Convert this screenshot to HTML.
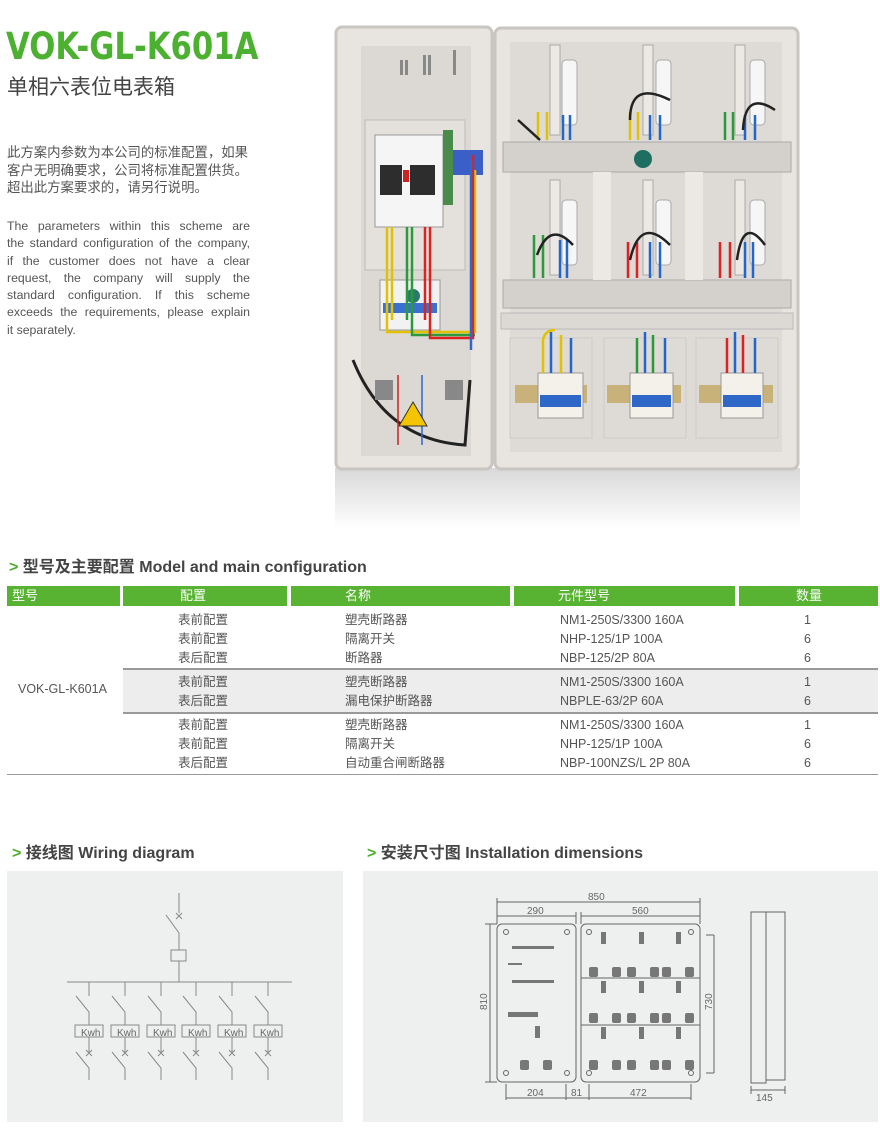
<!DOCTYPE html>
<html><head><meta charset="utf-8"><style>
body{margin:0;width:880px;height:1136px;background:#fff;position:relative;font-family:"Liberation Sans","Noto Sans CJK SC",sans-serif;color:#555;overflow:hidden}
.a{position:absolute;white-space:nowrap}
.h{position:absolute;font-size:16px;font-weight:bold;color:#444}
.h b{color:#4caf2a}
.th{position:absolute;top:586px;height:20px;background:#58b332;color:#fff;font-size:13px;line-height:20px}
.t{position:absolute;font-size:12.5px;color:#555;white-space:nowrap;font-family:"Liberation Sans","Noto Sans CJK SC",sans-serif}
.j{display:block;text-align:justify;text-align-last:justify;width:243px}
</style></head><body>
<div class="a" style="left:6px;top:25px;font-size:37px;font-weight:bold;color:#4cb030;font-family:'DejaVu Sans','Liberation Sans',sans-serif;transform:scaleX(0.83);transform-origin:left">VOK-GL-K601A</div>
<div class="a" style="left:7px;top:71px;font-size:21px;color:#444">单相六表位电表箱</div>
<div class="a" style="left:7px;top:144px;font-size:13.4px;line-height:17.5px;color:#555">此方案内参数为本公司的标准配置，如果<br>客户无明确要求，公司将标准配置供货。<br>超出此方案要求的，请另行说明。</div>
<div class="a" style="left:7px;top:218px;font-size:12.3px;line-height:17.3px;color:#555">
<span class="j">The parameters within this scheme are</span>
<span class="j">the standard configuration of the company,</span>
<span class="j">if the customer does not have a clear</span>
<span class="j">request, the company will supply the</span>
<span class="j">standard configuration. If this scheme</span>
<span class="j">exceeds the requirements, please explain</span>
<span style="display:block">it separately.</span>
</div>

<svg class="a" style="left:325px;top:20px" width="485" height="510">
<defs><linearGradient id="sh" x1="0" y1="0" x2="0" y2="1"><stop offset="0" stop-color="#d8d8d8"/><stop offset="1" stop-color="#fff"/></linearGradient></defs>
<rect x="10" y="448" width="465" height="60" fill="url(#sh)"/>
<rect x="11" y="7" width="156" height="442" rx="6" fill="#e8e4df" stroke="#c9c5c0" stroke-width="3"/>
<rect x="170" y="8" width="303" height="441" rx="6" fill="#e8e4df" stroke="#c9c5c0" stroke-width="3"/>
<rect x="36" y="26" width="110" height="410" fill="#dcd8d3"/>
<rect x="185" y="22" width="272" height="410" fill="#dedad5"/>
<rect x="40" y="100" width="100" height="150" fill="#e4e1dd" stroke="#bbb"/>
<rect x="50" y="115" width="68" height="92" fill="#f5f5f5" stroke="#999"/>
<rect x="55" y="145" width="22" height="30" fill="#2d2d2d"/><rect x="85" y="145" width="25" height="30" fill="#2d2d2d"/>
<rect x="78" y="150" width="6" height="12" fill="#c22"/>
<rect x="118" y="110" width="10" height="75" fill="#4a8a4a"/>
<rect x="128" y="130" width="30" height="25" fill="#3a60c8"/>
<rect x="55" y="260" width="60" height="50" fill="#f2f2f2" stroke="#999"/>
<rect x="58" y="283" width="54" height="10" fill="#3a70d0"/>
<circle cx="88" cy="276" r="7" fill="#2a7a6a"/>
<g stroke-width="2.5" fill="none"><path d="M62 207V300M67 207V300" stroke="#e2c200"/><path d="M82 207V300M87 207V300" stroke="#2a9a3a"/><path d="M100 207V300M105 207V300" stroke="#d22"/><path d="M62 300V312H150V150" stroke="#e2c200"/><path d="M87 300V315H150" stroke="#2a9a3a"/><path d="M105 300V318H148V135" stroke="#d22"/><path d="M146 140V330" stroke="#36c"/><path d="M28 340Q60 420 140 425 L145 360" stroke="#222" stroke-width="3"/><path d="M73 355V425" stroke="#c22" stroke-width="1.5"/><path d="M97 355V425" stroke="#36c" stroke-width="1.5"/></g>
<path d="M88 382L102 406L74 406Z" fill="#f5c400" stroke="#333"/>
<g fill="#888"><rect x="98" y="35" width="3" height="20"/><rect x="103" y="35" width="3" height="20"/><rect x="128" y="30" width="3" height="25"/><rect x="75" y="40" width="3" height="15"/><rect x="80" y="40" width="3" height="15"/><rect x="50" y="360" width="18" height="20"/><rect x="120" y="360" width="18" height="20"/></g>
<rect x="178" y="122" width="288" height="30" fill="#d4d1cc" stroke="#aaa"/>
<rect x="178" y="260" width="288" height="28" fill="#d4d1cc" stroke="#aaa"/>
<rect x="176" y="293" width="292" height="16" fill="#dcd9d4" stroke="#bbb"/>
<rect x="268" y="152" width="18" height="108" fill="#ece9e5"/><rect x="360" y="152" width="18" height="108" fill="#ece9e5"/>
<circle cx="318" cy="139" r="9" fill="#1f6e62"/>
<g fill="#ece9e5" stroke="#aaa"><rect x="225" y="25" width="10" height="90"/><rect x="318" y="25" width="10" height="90"/><rect x="410" y="25" width="10" height="90"/><rect x="225" y="160" width="10" height="95"/><rect x="318" y="160" width="10" height="95"/><rect x="410" y="160" width="10" height="95"/></g>
<g fill="#f6f6f6" stroke="#aaa"><rect x="237" y="40" width="15" height="65" rx="4"/><rect x="331" y="40" width="15" height="65" rx="4"/><rect x="425" y="40" width="15" height="65" rx="4"/><rect x="237" y="180" width="15" height="65" rx="4"/><rect x="331" y="180" width="15" height="65" rx="4"/><rect x="425" y="180" width="15" height="65" rx="4"/></g>
<g fill="none" stroke-width="2.5"><path d="M213 120V92M222 120V92" stroke="#e2c200"/><path d="M238 120V95M245 120V95" stroke="#26c"/><path d="M193 100L215 120" stroke="#222"/>
<path d="M305 120V92M313 120V92" stroke="#e2c200"/><path d="M325 120V95M335 120V95" stroke="#26c"/><path d="M305 100Q305 60 345 80" stroke="#222"/>
<path d="M400 120V92M408 120V92" stroke="#2a9a3a"/><path d="M420 120V95M430 120V95" stroke="#26c"/><path d="M418 110Q420 70 450 90" stroke="#222"/>
<path d="M209 258V215M218 258V215" stroke="#2a9a3a"/><path d="M235 258V220M242 258V220" stroke="#26c"/><path d="M212 235Q225 200 248 225" stroke="#222"/>
<path d="M303 258V222M312 258V222" stroke="#d22"/><path d="M325 258V222M335 258V222" stroke="#26c"/><path d="M305 240Q315 195 345 225" stroke="#222"/>
<path d="M395 258V222M405 258V222" stroke="#d22"/><path d="M420 258V222M428 258V222" stroke="#26c"/><path d="M412 240Q418 195 440 225" stroke="#222"/></g>
<g fill="none" stroke="#ccc"><rect x="185" y="318" width="82" height="100"/><rect x="279" y="318" width="82" height="100"/><rect x="371" y="318" width="82" height="100"/></g>
<g fill="#c9b27a"><rect x="190" y="365" width="72" height="18"/><rect x="282" y="365" width="74" height="18"/><rect x="374" y="365" width="74" height="18"/></g>
<g fill="#f4f1ea" stroke="#999"><rect x="213" y="353" width="45" height="45"/><rect x="305" y="353" width="43" height="45"/><rect x="396" y="353" width="42" height="45"/></g>
<g fill="#2f67c8"><rect x="215" y="375" width="41" height="12"/><rect x="307" y="375" width="39" height="12"/><rect x="398" y="375" width="38" height="12"/></g>
<g stroke-width="2.5" fill="none"><path d="M218 353V320Q220 310 230 310M236 353V315" stroke="#e2c200"/><path d="M226 353V312M246 353V318" stroke="#26c"/><path d="M312 353V318M328 353V315" stroke="#2a9a3a"/><path d="M320 353V312M340 353V318" stroke="#26c"/><path d="M402 353V318M418 353V315" stroke="#d22"/><path d="M410 353V312M430 353V318" stroke="#26c"/></g>
</svg>

<div class="h" style="left:9px;top:553px"><b>&gt;</b> 型号及主要配置 Model and main configuration</div>
<div class="th" style="left:7px;width:113px;padding-left:5px;box-sizing:border-box">型号</div>
<div class="th" style="left:123px;width:164px;padding-left:57px;box-sizing:border-box">配置</div>
<div class="th" style="left:291px;width:219px;padding-left:54px;box-sizing:border-box">名称</div>
<div class="th" style="left:514px;width:221px;padding-left:44px;box-sizing:border-box">元件型号</div>
<div class="th" style="left:739px;width:139px;padding-left:57px;box-sizing:border-box">数量</div>
<div style="position:absolute;left:123px;top:670px;width:755px;height:42px;background:#ededed"></div>
<div style="position:absolute;left:123px;top:668px;width:755px;height:2px;background:#999"></div>
<div style="position:absolute;left:123px;top:712px;width:755px;height:2px;background:#999"></div>
<div style="position:absolute;left:7px;top:774px;width:871px;height:1px;background:#999"></div>
<div class="t" style="left:18px;top:682px">VOK-GL-K601A</div>
<div class="t" style="left:178px;top:611px;line-height:19px">表前配置<br>表前配置<br>表后配置</div>
<div class="t" style="left:345px;top:611px;line-height:19px">塑壳断路器<br>隔离开关<br>断路器</div>
<div class="t" style="left:560px;top:611px;line-height:19px">NM1-250S/3300 160A<br>NHP-125/1P 100A<br>NBP-125/2P 80A</div>
<div class="t" style="left:804px;top:611px;line-height:19px">1<br>6<br>6</div>
<div class="t" style="left:178px;top:673px;line-height:19px">表前配置<br>表后配置</div>
<div class="t" style="left:345px;top:673px;line-height:19px">塑壳断路器<br>漏电保护断路器</div>
<div class="t" style="left:560px;top:673px;line-height:19px">NM1-250S/3300 160A<br>NBPLE-63/2P 60A</div>
<div class="t" style="left:804px;top:673px;line-height:19px">1<br>6</div>
<div class="t" style="left:178px;top:716px;line-height:19px">表前配置<br>表前配置<br>表后配置</div>
<div class="t" style="left:345px;top:716px;line-height:19px">塑壳断路器<br>隔离开关<br>自动重合闸断路器</div>
<div class="t" style="left:560px;top:716px;line-height:19px">NM1-250S/3300 160A<br>NHP-125/1P 100A<br>NBP-100NZS/L 2P 80A</div>
<div class="t" style="left:804px;top:716px;line-height:19px">1<br>6<br>6</div>

<div class="h" style="left:12px;top:839px"><b>&gt;</b> 接线图 Wiring diagram</div>
<div class="h" style="left:367px;top:839px"><b>&gt;</b> 安装尺寸图 Installation dimensions</div>
<div style="position:absolute;left:7px;top:871px;width:336px;height:251px;background:#eeefef"></div>
<div style="position:absolute;left:363px;top:871px;width:515px;height:251px;background:#eeefef"></div>

<svg class="a" style="left:0;top:0" width="880" height="1136" fill="none" stroke="#888" stroke-width="1" font-family="Liberation Sans" font-size="10">
<path d="M179 893V913M176 913l6 6M182 913l-6 6M166 915L179 933V950M179 961V982M67 982H292"/>
<rect x="171" y="950" width="15" height="11"/>
<g id="br">
<path d="M89 982V996M76 996L89 1012V1025M89 1037V1052M86 1050l6 6M92 1050l-6 6M76 1052L89 1068V1080"/>
<rect x="75" y="1025" width="28" height="12"/>
<text x="81" y="1036" fill="#666" stroke="none">Kwh</text>
</g>
<use href="#br" x="36"/><use href="#br" x="72"/><use href="#br" x="107"/><use href="#br" x="143"/><use href="#br" x="179"/>

<g stroke="#666">
<rect x="497" y="924" width="79" height="158" rx="5"/>
<rect x="581" y="924" width="119" height="158" rx="5"/>
<path d="M497 902H700M497 916H576M581 916H700M490 924V1082M485 924H497M485 1082H497M714 935V1073M706 935H714M706 1073H714M506 1098H566M566 1098H589M589 1098H691M506 1084V1100M566 1084V1100M589 1084V1100M691 1084V1100M497 898V924M700 898V924M581 912V924M576 912V924"/>
<path d="M581 978H700M581 1025H700"/>
<path d="M751 912H766V1083H751Z M766 912H785V1080H766M751 1090H785M751 1086V1094M785 1086V1094"/>
</g>
<g fill="#666" stroke="none">
<text x="588" y="900">850</text><text x="527" y="914">290</text><text x="632" y="914">560</text>
<text x="527" y="1096">204</text><text x="571" y="1096">81</text><text x="630" y="1096">472</text><text x="756" y="1101">145</text>
<text transform="translate(487 1010) rotate(-90)">810</text><text transform="translate(712 1010) rotate(-90)">730</text>
</g>
<g fill="#777" stroke="none">
<rect x="589" y="967" width="9" height="10" rx="2"/><rect x="612" y="967" width="9" height="10" rx="2"/><rect x="627" y="967" width="9" height="10" rx="2"/><rect x="650" y="967" width="9" height="10" rx="2"/><rect x="662" y="967" width="9" height="10" rx="2"/><rect x="685" y="967" width="9" height="10" rx="2"/>
<rect x="589" y="1013" width="9" height="10" rx="2"/><rect x="612" y="1013" width="9" height="10" rx="2"/><rect x="627" y="1013" width="9" height="10" rx="2"/><rect x="650" y="1013" width="9" height="10" rx="2"/><rect x="662" y="1013" width="9" height="10" rx="2"/><rect x="685" y="1013" width="9" height="10" rx="2"/>
<rect x="589" y="1060" width="9" height="10" rx="2"/><rect x="612" y="1060" width="9" height="10" rx="2"/><rect x="627" y="1060" width="9" height="10" rx="2"/><rect x="650" y="1060" width="9" height="10" rx="2"/><rect x="662" y="1060" width="9" height="10" rx="2"/><rect x="685" y="1060" width="9" height="10" rx="2"/>
<rect x="520" y="1060" width="9" height="10" rx="2"/><rect x="543" y="1060" width="9" height="10" rx="2"/>
<rect x="601" y="932" width="5" height="12"/><rect x="639" y="932" width="5" height="12"/><rect x="676" y="932" width="5" height="12"/>
<rect x="601" y="981" width="5" height="12"/><rect x="639" y="981" width="5" height="12"/><rect x="676" y="981" width="5" height="12"/>
<rect x="601" y="1027" width="5" height="12"/><rect x="639" y="1027" width="5" height="12"/><rect x="676" y="1027" width="5" height="12"/>
<rect x="535" y="1026" width="5" height="12"/>
<rect x="512" y="946" width="42" height="3"/><rect x="512" y="980" width="42" height="3"/><rect x="508" y="963" width="14" height="2"/><rect x="508" y="1012" width="30" height="5"/>
<circle cx="506" cy="932" r="2.5" fill="none" stroke="#666"/><circle cx="567" cy="932" r="2.5" fill="none" stroke="#666"/><circle cx="506" cy="1073" r="2.5" fill="none" stroke="#666"/><circle cx="567" cy="1073" r="2.5" fill="none" stroke="#666"/>
<circle cx="589" cy="932" r="2.5" fill="none" stroke="#666"/><circle cx="691" cy="932" r="2.5" fill="none" stroke="#666"/><circle cx="589" cy="1073" r="2.5" fill="none" stroke="#666"/><circle cx="691" cy="1073" r="2.5" fill="none" stroke="#666"/>
</g>
</svg>
</body></html>
